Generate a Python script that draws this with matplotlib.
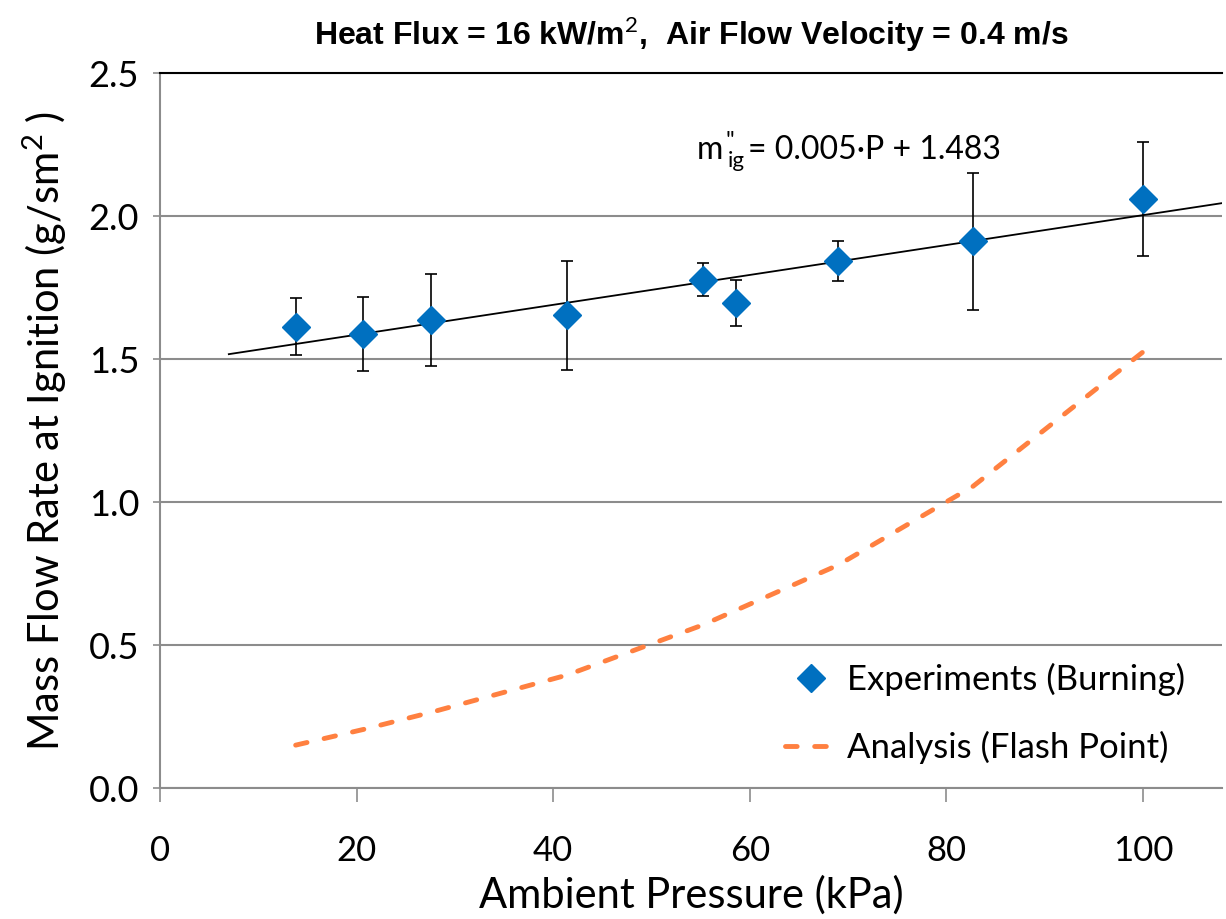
import numpy as np
import matplotlib
matplotlib.use("Agg")
import matplotlib.pyplot as plt

# Experimental data (burning)
pressure = [13.8, 20.7, 27.6, 41.4, 55.2, 58.6, 69.0, 82.7, 100.0]
mass_flow = [1.613, 1.588, 1.636, 1.653, 1.777, 1.696, 1.842, 1.912, 2.059]
mass_err = [0.10, 0.13, 0.16, 0.19, 0.058, 0.08, 0.07, 0.24, 0.20]

# Analysis (flash point)
p_analysis = [13.8, 20.7, 27.6, 41.4, 55.2, 69.0, 82.7, 100.0]
m_analysis = [0.15, 0.205, 0.265, 0.395, 0.57, 0.78, 1.055, 1.525]

x_ticks = [0, 20, 40, 60, 80, 100]
y_ticks = [0.0, 0.5, 1.0, 1.5, 2.0, 2.5]

plt.rcParams['font.family'] = ['Lato', 'DejaVu Sans']
plt.rcParams['mathtext.fontset'] = 'custom'
plt.rcParams['mathtext.rm'] = 'Lato'
plt.rcParams['mathtext.it'] = 'Lato'

fig = plt.figure(figsize=(12.26, 9.19), dpi=100)
ax = fig.add_axes([0.1305, 0.1425, 0.866, 0.778])

# linear trend line fitted to experiments
slope, intercept = np.polyfit(pressure, mass_flow, 1)
xt = np.array([7, 108])
ax.plot(xt, slope * xt + intercept, color='black', lw=1.3, zorder=3)

ax.errorbar(pressure, mass_flow, yerr=mass_err, fmt='none', ecolor='black',
            elinewidth=1.2, capsize=4, capthick=1.2, zorder=4)
ax.plot(pressure, mass_flow, 'D', color='#0070C0', ms=14, mec='#0070C0',
        label='Experiments (Burning)', zorder=5)
ax.plot(p_analysis, m_analysis, color='#FF8040', lw=3.5, dashes=(2.4, 3.6),
        dash_capstyle='round', label='Analysis (Flash Point)', zorder=3)

ax.set_xlim(0, 108)
ax.set_ylim(0, 2.5)
ax.set_xticks(x_ticks)
ax.set_yticks(y_ticks)
ax.set_yticklabels([f'{v:.1f}' for v in y_ticks])
ax.grid(axis='y', color='#8C8C8C', lw=1.5)
ax.set_axisbelow(True)

for s in ['left', 'bottom']:
    ax.spines[s].set_color('#8C8C8C')
    ax.spines[s].set_linewidth(1.5)
ax.spines['right'].set_visible(False)
ax.spines['top'].set_color('black')
ax.spines['top'].set_linewidth(1.5)

ax.tick_params(axis='x', direction='out', length=10, width=1.2, color='#8C8C8C',
               labelsize=25, pad=24)
ax.tick_params(axis='y', direction='inout', length=10, width=1.2, color='#8C8C8C',
               labelsize=26, pad=10)

ax.set_xlabel('Ambient Pressure (kPa)', fontsize=30, labelpad=6)
ax.set_ylabel('Mass Flow Rate at Ignition (g/sm$^2$ )', fontsize=30, labelpad=14)

ax.set_title('Heat Flux = 16 kW/m$^2$,  Air Flow Velocity = 0.4 m/s',
             fontsize=23, fontweight='bold', family=['Liberation Sans'], pad=20)

# trend line equation: m''_ig = 0.005·P + 1.483
eq_x, eq_y = 54.6, 2.2
ax.annotate('m', (eq_x, eq_y), fontsize=23, va='baseline')
ax.annotate("''", (eq_x, eq_y), xytext=(21, 8), textcoords='offset points',
            fontsize=17, va='baseline')
ax.annotate('ig', (eq_x, eq_y), xytext=(22, -6), textcoords='offset points',
            fontsize=16, va='baseline')
ax.annotate('= 0.005·P + 1.483', (eq_x, eq_y), xytext=(37, 0),
            textcoords='offset points', fontsize=23, va='baseline')

ax.legend(loc='lower right', frameon=False, fontsize=25, handlelength=1.5,
          handletextpad=0.3, labelspacing=1.0, bbox_to_anchor=(0.995, -0.01))

fig.savefig('out.png', dpi=100)
